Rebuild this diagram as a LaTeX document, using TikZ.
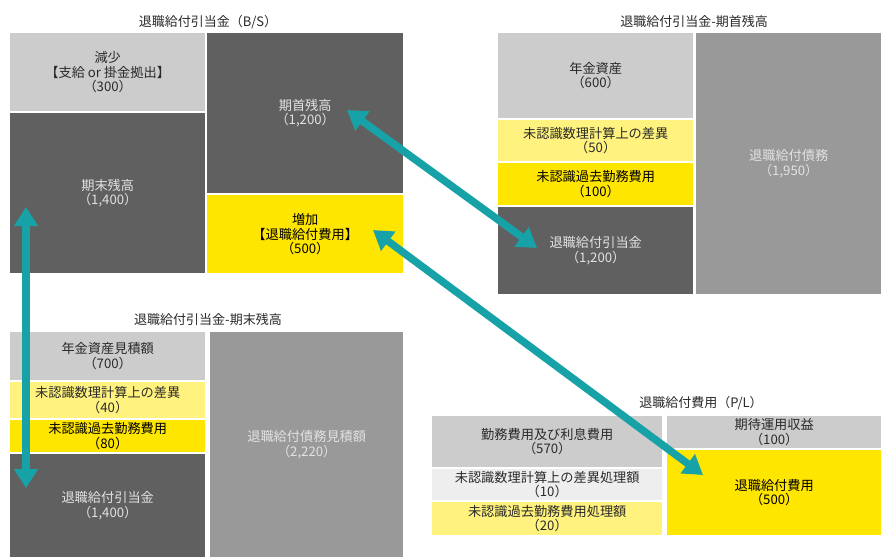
\documentclass[tikz,border=0pt]{standalone}
\usepackage{fontspec}
\setmainfont{Noto Sans CJK JP}
\usetikzlibrary{arrows.meta}
\definecolor{dk}{HTML}{606060}
\definecolor{lg}{HTML}{CCCCCC}
\definecolor{md}{HTML}{999999}
\definecolor{ly}{HTML}{FFF27E}
\definecolor{yl}{HTML}{FFE600}
\definecolor{vl}{HTML}{EEEEEE}
\definecolor{tl}{HTML}{17A2A8}
\definecolor{tx}{HTML}{2A2A2A}
\definecolor{lt}{HTML}{E2E2E2}
\tikzset{
  box/.style={inner sep=0pt, anchor=north west, align=center,
    font=\fontsize{13.2}{14.5}\selectfont, text=tx},
  darkbox/.style={box, fill=dk, text=lt},
  midbox/.style={box, fill=md, text=lt},
  lightbox/.style={box, fill=lg},
  paleyellow/.style={box, fill=ly},
  yellowbox/.style={box, fill=yl, text=black},
  palebox/.style={box, fill=vl},
  ttl/.style={inner sep=0pt, font=\fontsize{13}{14.5}\selectfont, text=tx},
  conn/.style={draw=tl, line width=7.5pt,
    {Triangle[width=23pt,length=19pt]}-{Triangle[width=23pt,length=19pt]}}
}
\begin{document}
\begin{tikzpicture}[x=1pt,y=-1pt]
\path[use as bounding box, fill=white] (0,0) rectangle (881,557);

% Top-left: B/S
\node[ttl] (t1) at (208,22) {退職給付引当金（B/S）};
\node[lightbox, minimum width=195pt, minimum height=78pt] (dec) at (10,33)
  {減少\\【支給 or 掛金拠出】\\（300）};
\node[darkbox, minimum width=195pt, minimum height=160pt] (endbal) at (10,113)
  {期末残高\\（1,400）};
\node[darkbox, minimum width=196pt, minimum height=160pt] (begbal) at (207,33)
  {期首残高\\（1,200）};
\node[yellowbox, minimum width=196pt, minimum height=78pt] (inc) at (207,195)
  {増加\\【退職給付費用】\\（500）};

% Top-right: opening balance
\node[ttl] (t2) at (694,22) {退職給付引当金-期首残高};
\node[lightbox, minimum width=195pt, minimum height=85pt] (pa) at (498,33)
  {年金資産\\（600）};
\node[paleyellow, minimum width=195pt, minimum height=41pt] (ag) at (498,120)
  {未認識数理計算上の差異\\（50）};
\node[yellowbox, minimum width=195pt, minimum height=42pt] (ps) at (498,163)
  {未認識過去勤務費用\\（100）};
\node[darkbox, minimum width=195pt, minimum height=87pt] (res) at (498,207)
  {退職給付引当金\\（1,200）};
\node[midbox, minimum width=185pt, minimum height=261pt] (dbo) at (696,33)
  {退職給付債務\\（1,950）};

% Bottom-left: closing balance
\node[ttl] (t3) at (208,320) {退職給付引当金-期末残高};
\node[lightbox, minimum width=195pt, minimum height=48pt] (pa2) at (10,332)
  {年金資産見積額\\（700）};
\node[paleyellow, minimum width=195pt, minimum height=36pt] (ag2) at (10,382)
  {未認識数理計算上の差異\\（40）};
\node[yellowbox, minimum width=195pt, minimum height=32pt] (ps2) at (10,420)
  {未認識過去勤務費用\\（80）};
\node[darkbox, minimum width=195pt, minimum height=103pt] (res2) at (10,454)
  {退職給付引当金\\（1,400）};
\node[midbox, minimum width=193pt, minimum height=225pt] (dbo2) at (210,332)
  {退職給付債務見積額\\（2,220）};

% Bottom-right: P/L
\node[ttl] (t4) at (701,403) {退職給付費用（P/L）};
\node[lightbox, minimum width=230pt, minimum height=51pt] (sc) at (432,416)
  {勤務費用及び利息費用\\（570）};
\node[palebox, minimum width=230pt, minimum height=31pt] (ag3) at (432,469)
  {未認識数理計算上の差異処理額\\（10）};
\node[paleyellow, minimum width=230pt, minimum height=33pt] (ps3) at (432,502)
  {未認識過去勤務費用処理額\\（20）};
\node[lightbox, minimum width=214pt, minimum height=32pt] (er) at (667,416)
  {期待運用収益\\（100）};
\node[yellowbox, minimum width=214pt, minimum height=85pt] (exp) at (667,450)
  {退職給付費用\\（500）};

% Connector end points
\coordinate (a1s) at (347,110);
\coordinate (a1e) at (537,248);
\coordinate (a2s) at (373,230);
\coordinate (a2e) at (703,475);
\coordinate (a3s) at (26,207);
\coordinate (a3e) at (26,488);

\draw[conn] (a1s) -- (a1e);
\draw[conn] (a2s) -- (a2e);
\draw[conn] (a3s) -- (a3e);
\end{tikzpicture}
\end{document}
